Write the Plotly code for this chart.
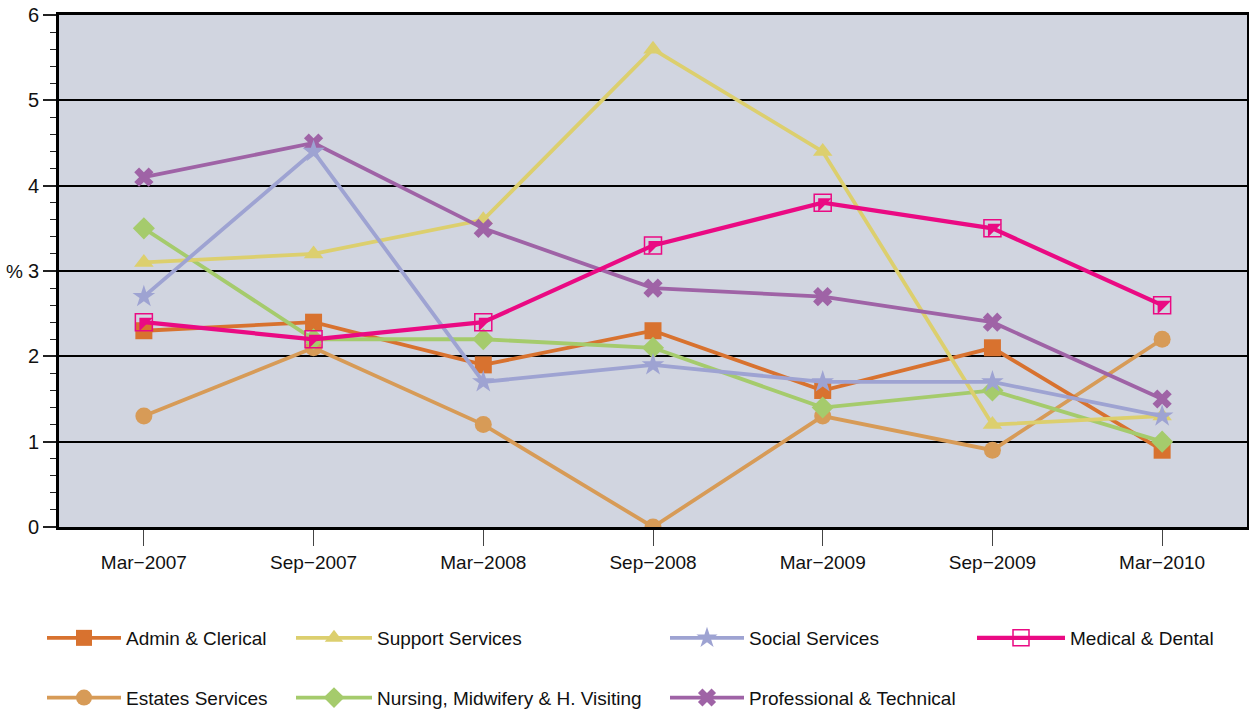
import plotly.graph_objects as go

# Survey periods
periods = ["Mar−2007", "Sep−2007", "Mar−2008", "Sep−2008", "Mar−2009", "Sep−2009", "Mar−2010"]

# Rates (%) by staff group
admin_clerical = [2.3, 2.4, 1.9, 2.3, 1.6, 2.1, 0.9]
support_services = [3.1, 3.2, 3.6, 5.6, 4.4, 1.2, 1.3]
social_services = [2.7, 4.4, 1.7, 1.9, 1.7, 1.7, 1.3]
medical_dental = [2.4, 2.2, 2.4, 3.3, 3.8, 3.5, 2.6]
estates_services = [1.3, 2.1, 1.2, 0.0, 1.3, 0.9, 2.2]
nursing_midwifery = [3.5, 2.2, 2.2, 2.1, 1.4, 1.6, 1.0]
professional_technical = [4.1, 4.5, 3.5, 2.8, 2.7, 2.4, 1.5]

FONT = "Liberation Sans, Arial, sans-serif"

# name, values, colour, marker symbol, legend id, row in legend
series = [
    ("Estates Services", estates_services, "#D79B57", "circle", "legend", 2),
    ("Admin & Clerical", admin_clerical, "#D8722F", "square", "legend", 1),
    ("Nursing, Midwifery & H. Visiting", nursing_midwifery, "#A5CB6C", "diamond", "legend2", 2),
    ("Support Services", support_services, "#DCCF6E", "triangle-up", "legend2", 1),
    ("Professional & Technical", professional_technical, "#9F63A6", "x", "legend3", 2),
    ("Social Services", social_services, "#9EA3D2", "star", "legend3", 1),
]

fig = go.Figure()

for name, vals, color, symbol, leg, rank in series:
    fig.add_trace(go.Scatter(
        x=periods, y=vals, name=name, mode="lines+markers",
        line=dict(color=color, width=3.8),
        marker=dict(symbol=symbol, size=17, color=color, line=dict(width=0)),
        legend=leg, legendgroup=name, legendrank=rank,
    ))

# Medical & Dental: open square with a filled upper-left half
MED = "#EA0A83"
fig.add_trace(go.Scatter(
    x=periods, y=medical_dental, name="Medical & Dental", mode="lines+markers",
    line=dict(color=MED, width=4.2),
    marker=dict(symbol="square-open", size=17, color=MED, line=dict(width=1.5, color=MED)),
    legend="legend4", legendgroup="Medical & Dental",
))
fig.add_trace(go.Scatter(
    x=periods, y=medical_dental, mode="markers", showlegend=False,
    marker=dict(symbol="triangle-nw", size=15, color=MED, line=dict(width=0)),
    hoverinfo="skip",
))

# "%" axis caption
fig.add_annotation(text="%", xref="paper", yref="paper", x=-0.0375, y=0.5,
                   xanchor="center", yanchor="middle",
                   showarrow=False, font=dict(size=19, color="#111", family=FONT))

W = 1188.0
def lx(px):
    return (px - 59) / W

def legend_at(px, itemwidth):
    return dict(
        x=lx(px), y=1 - 619 / 713.0, yref="container",
        orientation="v", yanchor="top", xanchor="left",
        font=dict(size=19, color="#111", family=FONT),
        bgcolor="rgba(0,0,0,0)", tracegroupgap=32, itemwidth=itemwidth,
    )

fig.update_layout(
    width=1249, height=713,
    margin=dict(l=59, r=2, t=15, b=186, autoexpand=False),
    paper_bgcolor="white",
    plot_bgcolor="#D1D5E0",
    font=dict(family=FONT, size=19, color="#111"),
    legend=legend_at(42, 74),
    legend2=legend_at(291, 76),
    legend3=legend_at(665, 74),
    legend4=legend_at(972, 88),
    xaxis=dict(
        type="category", range=[-0.5, 6.5],
        showgrid=False, zeroline=False,
        showline=True, linecolor="black", linewidth=3, mirror=True,
        ticks="outside", ticklen=16, tickwidth=1, tickcolor="#444",
        tickfont=dict(size=19, family=FONT, color="#111"),
    ),
    yaxis=dict(
        range=[0, 6], tickvals=[0, 1, 2, 3, 4, 5, 6],
        showgrid=True, gridcolor="black", gridwidth=1.5,
        zeroline=False,
        showline=True, linecolor="black", linewidth=3, mirror=True,
        ticks="outside", ticklen=13, tickwidth=1.5, tickcolor="#222",
        minor=dict(dtick=0.2, ticks="outside", ticklen=6, tickwidth=1.2,
                   tickcolor="#222", showgrid=False),
        tickfont=dict(size=20, family=FONT, color="#111"),
    ),
)

fig.write_html("out.html")
